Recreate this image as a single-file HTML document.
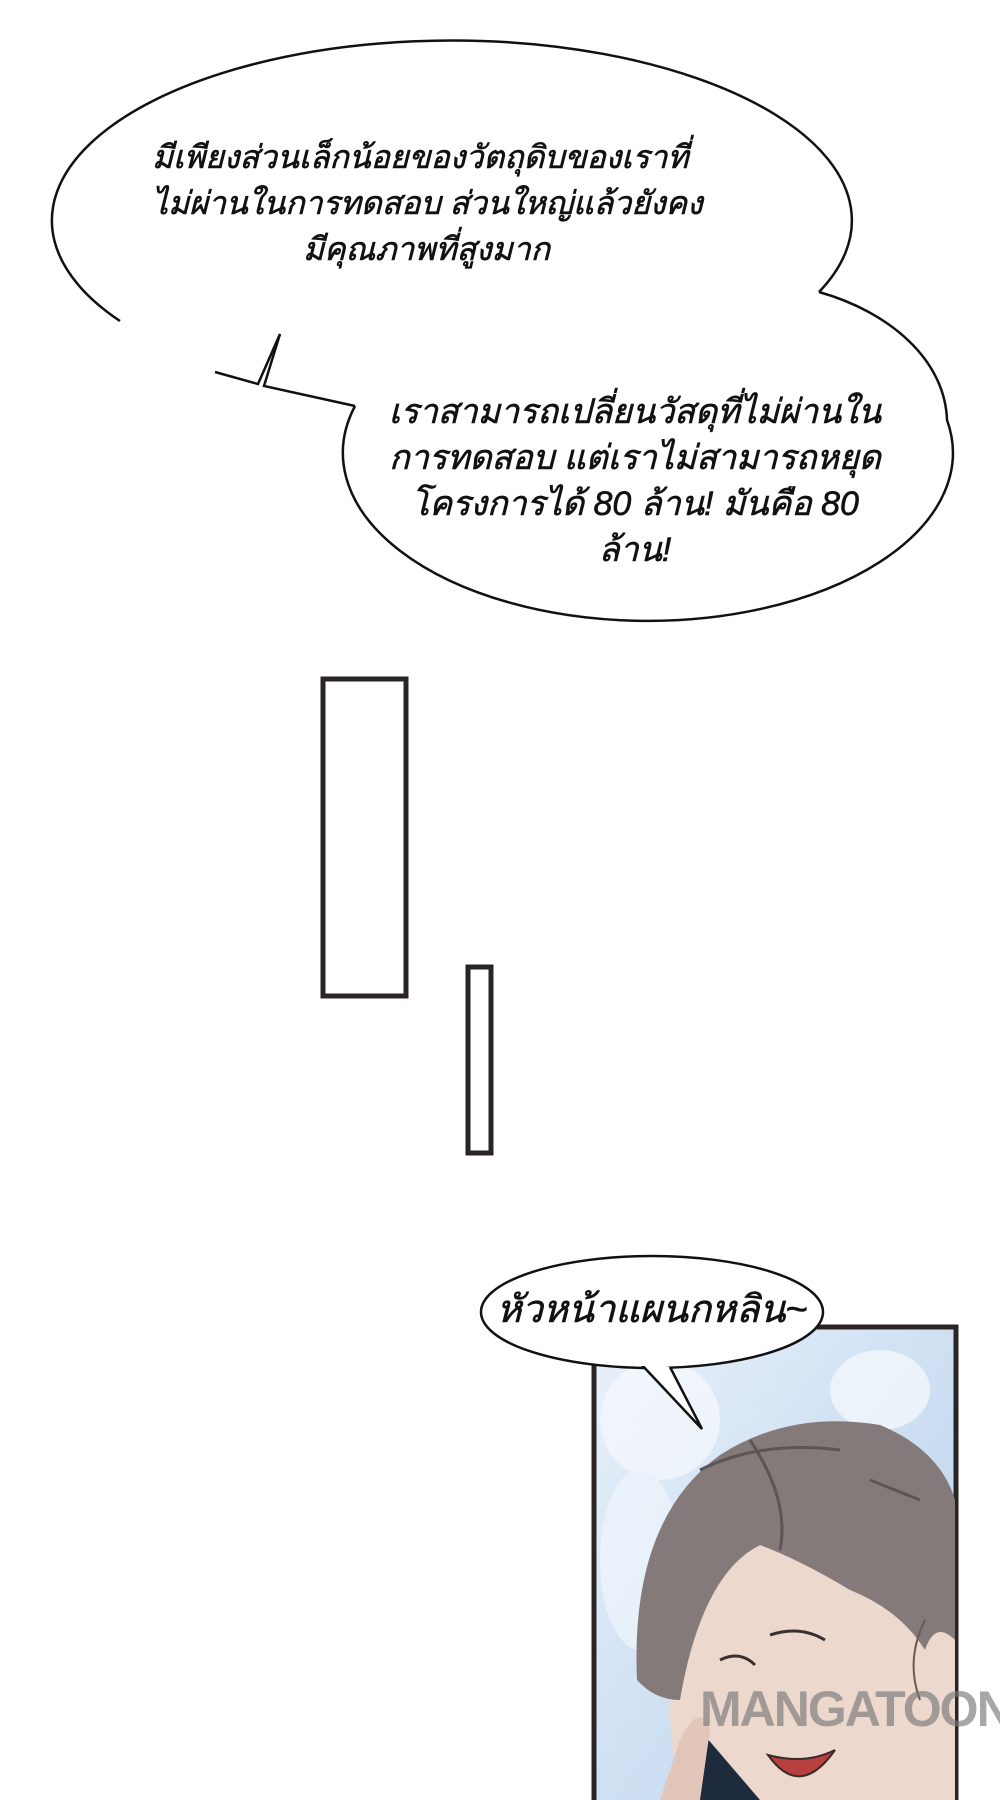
<!DOCTYPE html>
<html><head><meta charset="utf-8"><style>
html,body{margin:0;padding:0;background:#fff;}
body{width:1000px;height:1800px;position:relative;overflow:hidden;font-family:"Liberation Sans","Noto Sans CJK SC",sans-serif;}
svg{position:absolute;left:0;top:0;}
.t{position:absolute;font-style:italic;color:#111;font-size:33px;line-height:46px;white-space:nowrap;font-family:"Liberation Sans","Noto Sans CJK SC",sans-serif;-webkit-text-stroke:0.6px #111;}
</style></head><body>
<svg width="1000" height="1800" viewBox="0 0 1000 1800">
<defs>
<linearGradient id="sky" x1="0" y1="0" x2="1" y2="1">
<stop offset="0" stop-color="#e9f1fa"/><stop offset="0.5" stop-color="#cfe0f3"/><stop offset="1" stop-color="#b8d0ea"/>
</linearGradient>
</defs>
<!-- bubble 1 -->
<path d="M120 321 A400 180 0 1 1 819 292" fill="none" stroke="#111" stroke-width="2.5"/>
<!-- bubble 2 -->
<path d="M819 292 C890 312 945 360 947 420 A305 168 0 1 1 355 406" fill="none" stroke="#111" stroke-width="2.5"/>
<!-- tail -->
<path d="M280 334 L258 384 L215 372" fill="none" stroke="#111" stroke-width="2.5"/>
<path d="M280 334 L264 386 L355 406" fill="none" stroke="#111" stroke-width="2.5"/>
<!-- rects -->
<rect x="323" y="679" width="83" height="317" fill="#fff" stroke="#2a2524" stroke-width="5"/>
<rect x="468" y="967" width="23" height="186" fill="#fff" stroke="#2a2524" stroke-width="5"/>
<!-- panel -->
<rect x="594" y="1327" width="362" height="480" fill="url(#sky)" stroke="#2a2524" stroke-width="5"/>
<g opacity="0.75">
<ellipse cx="660" cy="1420" rx="60" ry="60" fill="#f4f8fc"/>
<ellipse cx="880" cy="1390" rx="50" ry="40" fill="#f4f8fc"/>
<ellipse cx="640" cy="1560" rx="40" ry="90" fill="#eef4fb"/>
</g>
<!-- face -->
<path d="M670 1640 Q680 1560 740 1540 Q820 1530 900 1570 L955 1600 L955 1800 L680 1800 Q665 1720 670 1640Z" fill="#ecd8cc"/>
<path d="M637 1680 Q630 1520 720 1455 Q790 1410 880 1425 Q940 1450 955 1500 L955 1640 Q935 1620 925 1650 Q900 1610 850 1590 Q800 1560 760 1545 Q730 1560 710 1600 Q690 1640 680 1700 Q655 1700 637 1680Z" fill="#857a7a"/>
<path d="M700 1470 Q760 1440 840 1450" fill="none" stroke="#5d5454" stroke-width="3"/>
<path d="M750 1440 Q790 1500 780 1550" fill="none" stroke="#5d5454" stroke-width="3"/>
<path d="M870 1480 L920 1500" fill="none" stroke="#5d5454" stroke-width="3"/>
<path d="M925 1620 Q905 1660 920 1700" fill="none" stroke="#6a5a55" stroke-width="2"/>
<path d="M770 1635 Q800 1625 825 1640 M720 1660 Q740 1650 755 1665" fill="none" stroke="#3a3030" stroke-width="3"/>
<path d="M768 1755 Q800 1800 835 1750 Q805 1765 768 1755Z" fill="#b8403f" stroke="#3a2a2a" stroke-width="2"/>
<path d="M700 1730 L760 1800 L690 1800 Z" fill="#1d2b3c"/>
<path d="M680 1740 Q700 1700 710 1730 L700 1800 L660 1800Z" fill="#e2c6b9"/>
<!-- bubble 3 -->
<ellipse cx="652" cy="1312" rx="171" ry="56" fill="#fff" stroke="#111" stroke-width="2.5"/>
<path d="M641 1364 L702 1429 L670 1367" fill="#fff" stroke="#111" stroke-width="2.5"/>
<rect x="640" y="1356" width="32" height="10" fill="#fff"/>
</svg>
<div class="t" style="left:152px;top:134px;font-size:32px;">มีเพียงส่วนเล็กน้อยของวัตถุดิบของเราที่<br>ไม่ผ่านในการทดสอบ ส่วนใหญ่แล้วยังคง<br><span style="padding-left:151px">มีคุณภาพที่สูงมาก</span></div>
<div class="t" style="left:385px;width:500px;top:389px;text-align:center;font-size:34px;">เราสามารถเปลี่ยนวัสดุที่ไม่ผ่านใน<br>การทดสอบ แต่เราไม่สามารถหยุด<br>โครงการได้ 80 ล้าน! มันคือ 80<br>ล้าน!</div>
<div class="t" style="left:482px;width:340px;top:1287px;text-align:center;font-size:38px;">หัวหน้าแผนกหลิน~</div>
<div style="position:absolute;left:700px;top:1680px;font-size:50px;font-weight:bold;color:rgba(120,120,120,0.65);font-family:'Liberation Sans',sans-serif;letter-spacing:-2px;">MANGATOON</div>
</body></html>
